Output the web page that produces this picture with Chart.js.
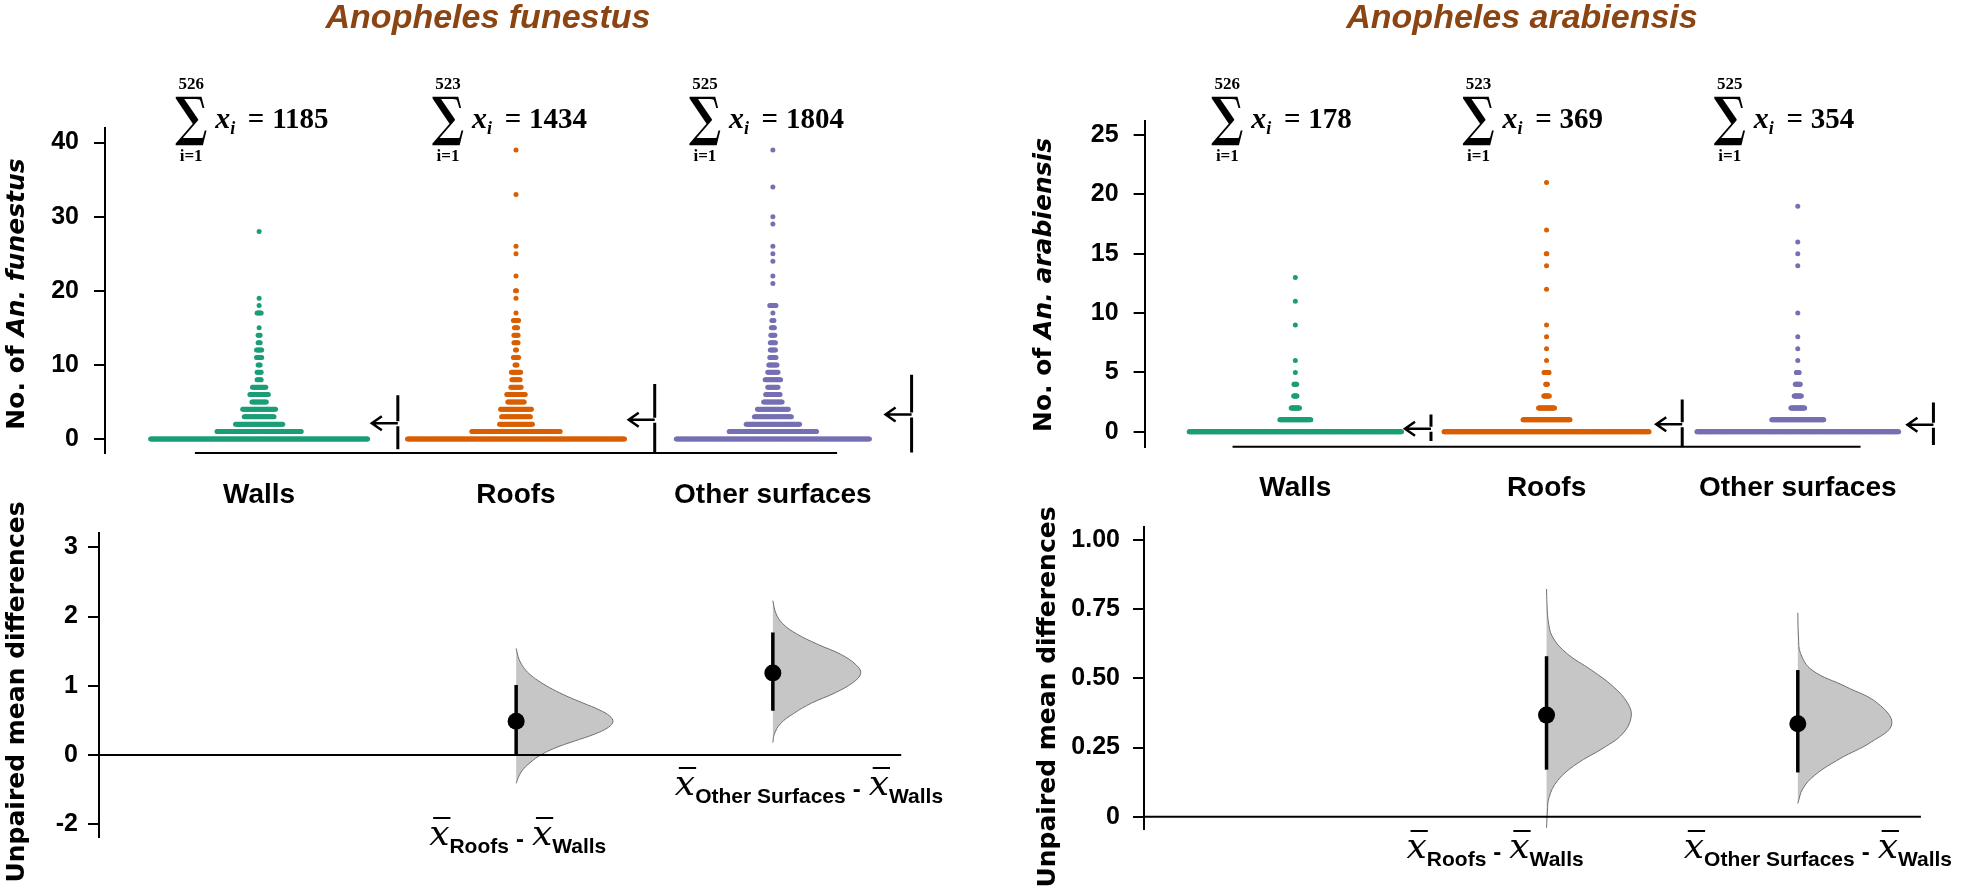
<!DOCTYPE html>
<html>
<head>
<meta charset="utf-8">
<script src="https://cdn.jsdelivr.net/npm/chart.js@4.4.1/dist/chart.umd.min.js"></script>
<style>
  html, body { margin: 0; padding: 0; background: #fff; }
  #wrap { position: relative; width: 1961px; height: 892px; overflow: hidden; }
  #wrap canvas { position: absolute; }
</style>
</head>
<body>
<div id="wrap">
  <canvas id="funSwarm" width="960" height="520" style="left:0;top:0"></canvas>
  <canvas id="arabSwarm" width="981" height="520" style="left:980px;top:0"></canvas>
  <canvas id="funDiff" width="980" height="422" style="left:0;top:470px"></canvas>
  <canvas id="arabDiff" width="981" height="422" style="left:980px;top:470px"></canvas>
</div>
<script>
// mosquitoes caught per sample -> number of samples with that catch
const funWallsValues = [0, 1, 2, 3, 4, 5, 6, 7, 8, 9, 10, 11, 12, 13, 14, 15, 17, 18, 19, 28];
const funWallsCounts = [245, 83, 47, 30, 33, 15, 19, 14, 5, 5, 3, 6, 6, 3, 3, 1, 5, 1, 1, 1];
const funRoofsValues = [0, 1, 2, 3, 4, 5, 6, 7, 8, 9, 10, 11, 12, 13, 14, 15, 16, 17, 19, 20, 22, 25, 26, 33, 39];
const funRoofsCounts = [237, 87, 33, 29, 31, 17, 19, 11, 9, 10, 3, 6, 2, 5, 5, 4, 6, 1, 1, 2, 1, 1, 1, 1, 1];
const funOtherValues = [0, 1, 2, 3, 4, 5, 6, 7, 8, 9, 10, 11, 12, 13, 14, 15, 16, 17, 18, 21, 22, 24, 25, 26, 29, 30, 34, 39];
const funOtherCounts = [189, 86, 53, 37, 31, 19, 15, 11, 16, 11, 9, 7, 6, 6, 5, 4, 3, 1, 7, 1, 1, 1, 1, 1, 1, 1, 1, 1];

const arabWallsValues = [0, 1, 2, 3, 4, 5, 6, 9, 11, 13];
const arabWallsCounts = [435, 57, 16, 7, 6, 1, 1, 1, 1, 1];
const arabRoofsValues = [0, 1, 2, 3, 4, 5, 6, 7, 8, 9, 12, 14, 15, 17, 21];
const arabRoofsCounts = [372, 86, 30, 11, 4, 10, 1, 1, 1, 1, 1, 1, 2, 1, 1];
const arabOtherValues = [0, 1, 2, 3, 4, 5, 6, 7, 8, 10, 14, 15, 16, 19];
const arabOtherCounts = [366, 95, 26, 14, 10, 6, 1, 1, 1, 1, 1, 1, 1, 1];

const groups = ['Walls', 'Roofs', 'Other surfaces'];
const diffGroups = ['Roofs', 'Other Surfaces'];

// tick labels
const funCountTicks = [0, 10, 20, 30, 40];
const arabCountTicks = [0, 5, 10, 15, 20, 25];
const funDiffTicks = [-1, 0, 1, 2, 3];
const funDiffTickLabels = ['-2', '0', '1', '2', '3'];
const arabDiffTicks = [0, 0.25, 0.5, 0.75, 1];
const arabDiffTickLabels = ['0', '0.25', '0.50', '0.75', '1.00'];

// 95% CI of the mean difference vs walls (Roofs, Other surfaces)
const funCiLow = [-0.01, 0.64];
const funCiHigh = [1.01, 1.77];
const arabCiLow = [0.17, 0.16];
const arabCiHigh = [0.58, 0.53];

// bootstrap distributions of the difference: value and density
const funRoofsDistY = [-0.41, -0.30, -0.20, -0.10, 0.00, 0.10, 0.20, 0.30, 0.40, 0.48, 0.56, 0.65, 0.75, 0.85, 0.95, 1.05, 1.15, 1.25, 1.38, 1.54];
const funRoofsDistD = [0.00, 0.04, 0.10, 0.20, 0.33, 0.52, 0.78, 1.05, 1.24, 1.30, 1.26, 1.12, 0.90, 0.68, 0.49, 0.33, 0.20, 0.11, 0.04, 0.00];
const funOtherDistY = [0.18, 0.30, 0.45, 0.60, 0.75, 0.90, 1.05, 1.18, 1.30, 1.45, 1.60, 1.75, 1.90, 2.05, 2.23];
const funOtherDistD = [0.00, 0.02, 0.10, 0.28, 0.52, 0.84, 1.08, 1.18, 1.12, 0.92, 0.60, 0.32, 0.13, 0.04, 0.00];
const arabRoofsDistY = [-0.04, 0.02, 0.07, 0.13, 0.19, 0.25, 0.30, 0.36, 0.41, 0.47, 0.53, 0.59, 0.65, 0.71, 0.77, 0.823];
const arabRoofsDistD = [0.00, 0.04, 0.11, 0.48, 1.30, 2.52, 3.33, 3.70, 3.55, 2.92, 1.96, 0.89, 0.26, 0.07, 0.02, 0.00];
const arabOtherDistY = [0.048, 0.10, 0.15, 0.21, 0.27, 0.335, 0.41, 0.47, 0.53, 0.59, 0.65, 0.737];
const arabOtherDistD = [0.00, 0.21, 0.74, 1.85, 3.21, 4.11, 3.49, 2.10, 0.62, 0.12, 0.03, 0.00];

const groupColors = ['#1b9e77', '#d95f02', '#7570b3'];
const titleColor = '#8b4513';
const SANS = '"Liberation Sans", Arial, sans-serif';
const SERIF = '"Liberation Serif", "DejaVu Serif", serif';
const WIDE = '"DejaVu Sans", sans-serif';

function groupStats(values, counts) {
  let n = 0, s = 0, s2 = 0;
  values.forEach((v, i) => { n += counts[i]; s += v * counts[i]; s2 += v * v * counts[i]; });
  const mean = s / n;
  return { n, sum: s, mean, sd: Math.sqrt((s2 - n * mean * mean) / (n - 1)) };
}

// lay the dots of each row side by side around the group centre
function swarmPoints(values, counts, center, step, cap) {
  const pts = [];
  values.forEach((v, k) => {
    const n = counts[k];
    const gap = n > 1 ? Math.min(step, cap / (n - 1)) : 0;
    for (let i = 0; i < n; i++) pts.push({ x: center + (i - (n - 1) / 2) * gap, y: v });
  });
  return pts;
}

function yAxis(min, max, ticks, labels, width, pad) {
  return {
    type: 'linear', min, max,
    afterFit: s => { s.width = width; },
    afterBuildTicks: s => { s.ticks = ticks.map(v => ({ value: v })); },
    grid: { display: true, drawOnChartArea: false, drawTicks: true, tickLength: 11, color: '#000', lineWidth: 2 },
    border: { display: true, color: '#000', width: 2 },
    ticks: { padding: pad, color: '#000', autoSkip: false, font: { family: SANS, weight: 'bold', size: 25 },
             callback: (v, i) => labels[i] }
  };
}

function drawVerticalTitle(ctx, parts, cx, cy) {
  ctx.save();
  ctx.translate(cx, cy);
  ctx.rotate(-Math.PI / 2);
  ctx.fillStyle = '#000';
  ctx.textBaseline = 'alphabetic';
  let total = 0;
  parts.forEach(p => {
    ctx.font = (p.italic ? 'italic ' : '') + 'bold 25px ' + WIDE;
    p.w = ctx.measureText(p.text).width;
    total += p.w;
  });
  let x = -total / 2;
  parts.forEach(p => {
    ctx.font = (p.italic ? 'italic ' : '') + 'bold 25px ' + WIDE;
    ctx.fillText(p.text, x, 9);
    x += p.w;
  });
  ctx.restore();
}

function drawTitle(ctx, text, cx) {
  ctx.save();
  ctx.fillStyle = titleColor;
  ctx.font = 'italic bold 34px ' + SANS;
  ctx.textAlign = 'center';
  ctx.fillText(text, cx, 28);
  ctx.restore();
}

function drawSigma(ctx, cx, n, sum) {
  const left = cx - 84;
  ctx.save();
  ctx.fillStyle = '#000';
  ctx.font = 'bold 60px "DejaVu Serif"';
  const m = ctx.measureText('\u2211');
  const gw = m.actualBoundingBoxLeft + m.actualBoundingBoxRight;
  const gh = m.actualBoundingBoxAscent + m.actualBoundingBoxDescent;
  ctx.save();
  ctx.translate(left, 96);
  ctx.scale(32 / gw, 50 / gh);
  ctx.fillText('\u2211', m.actualBoundingBoxLeft, m.actualBoundingBoxAscent);
  ctx.restore();

  ctx.textAlign = 'center';
  ctx.font = 'bold 17px ' + SERIF;
  ctx.fillText(String(n), left + 16, 89);
  ctx.fillText('i=1', left + 16, 161);

  ctx.textAlign = 'left';
  let x = cx - 44;
  ctx.font = 'italic bold 30px ' + SERIF;
  ctx.fillText('x', x, 128);
  x += ctx.measureText('x').width;
  ctx.font = 'italic bold 18px ' + SERIF;
  ctx.fillText('i', x, 134);
  ctx.font = 'bold 29px ' + SERIF;
  ctx.textAlign = 'center';
  ctx.fillText('=', cx - 3, 128);
  ctx.textAlign = 'left';
  ctx.fillText(String(sum), cx + 13, 128);
  ctx.restore();
}

function makeSwarmChart(id, p) {
  const stats = p.values.map((v, g) => groupStats(v, p.counts[g]));
  const datasets = p.values.map((v, g) => ({
    type: 'scatter',
    data: swarmPoints(v, p.counts[g], g + 1, p.step, 0.845),
    pointRadius: 2.5, pointBorderWidth: 0,
    pointBackgroundColor: groupColors[g], backgroundColor: groupColors[g], order: 2
  }));
  datasets.push({
    type: 'line', data: [{ x: 0.75, y: p.yMin }, { x: 3.25, y: p.yMin }],
    borderColor: '#000', borderWidth: 2, pointRadius: 0, clip: false, order: 1
  });

  const decor = {
    id: 'swarmDecor',
    afterDatasetsDraw(chart) {
      const { ctx, chartArea: a, scales: { x, y } } = chart;
      ctx.save();
      ctx.beginPath();
      ctx.rect(a.left, a.top, a.right - a.left, a.bottom - a.top + 1);
      ctx.clip();
      ctx.strokeStyle = '#000';
      stats.forEach((s, g) => {
        const px = x.getPixelForValue(g + 1.54);
        const pm = y.getPixelForValue(s.mean);
        ctx.lineWidth = 3;
        ctx.beginPath();
        ctx.moveTo(px, y.getPixelForValue(s.mean + s.sd));
        ctx.lineTo(px, pm - 1);
        ctx.moveTo(px, pm + 4);
        ctx.lineTo(px, y.getPixelForValue(s.mean - s.sd));
        ctx.stroke();
        ctx.lineWidth = 2.5;
        ctx.beginPath();
        ctx.moveTo(px, pm + 1);
        ctx.lineTo(px - 26, pm + 1);
        ctx.moveTo(px - 16, pm - 6);
        ctx.lineTo(px - 26, pm + 1);
        ctx.lineTo(px - 16, pm + 8);
        ctx.stroke();
      });
      ctx.restore();
    },
    afterDraw(chart) {
      const { ctx, scales: { x } } = chart;
      drawTitle(ctx, p.title, p.titleX);
      drawVerticalTitle(ctx, p.yTitle, p.yTitleX, p.yTitleY);
      stats.forEach((s, g) => drawSigma(ctx, x.getPixelForValue(g + 1), s.n, s.sum));
    }
  };

  return new Chart(document.getElementById(id), {
    type: 'scatter',
    data: { datasets },
    options: {
      responsive: false, animation: false, events: [], devicePixelRatio: 1,
      layout: { padding: { top: p.area.top, right: p.width - p.area.right, left: 0, bottom: 0 } },
      plugins: { legend: { display: false }, tooltip: { enabled: false } },
      scales: {
        x: {
          type: 'linear', min: 0.4, max: 3.6,
          afterFit: s => { s.height = p.height - p.area.bottom; },
          afterBuildTicks: s => { s.ticks = [1, 2, 3].map(v => ({ value: v })); },
          grid: { display: false, drawTicks: false },
          border: { display: false },
          ticks: { padding: p.labelPad, color: '#000', autoSkip: false, maxRotation: 0, minRotation: 0,
                   font: { family: SANS, weight: 'bold', size: 28 }, callback: (v, i) => groups[i] }
        },
        y: yAxis(p.yMin, p.yMax, p.ticks, p.ticks.map(String), p.area.left, 15)
      }
    },
    plugins: [decor]
  });
}

function drawXbar(ctx, x, base) {
  ctx.font = 'italic 36px "DejaVu Serif"';
  ctx.fillText('x', x, base);
  const w = ctx.measureText('x').width;
  ctx.lineWidth = 2;
  ctx.beginPath();
  ctx.moveTo(x + 4, base - 27);
  ctx.lineTo(x + w + 1, base - 27);
  ctx.stroke();
  return x + w;
}

function drawDiffLabel(ctx, x, base, sub) {
  ctx.save();
  ctx.fillStyle = '#000';
  ctx.strokeStyle = '#000';
  ctx.textAlign = 'left';
  x = drawXbar(ctx, x, base);
  ctx.font = 'bold 21px ' + SANS;
  ctx.fillText(sub, x, base + 8);
  x += ctx.measureText(sub).width + 7;
  ctx.font = 'bold 24px ' + SANS;
  ctx.fillText('-', x, base + 2);
  x += ctx.measureText('-').width + 8;
  x = drawXbar(ctx, x, base);
  ctx.font = 'bold 21px ' + SANS;
  ctx.fillText('Walls', x, base + 8);
  ctx.restore();
}

function makeDiffChart(id, p) {
  const base = groupStats(p.values[0], p.counts[0]);
  const diffs = [1, 2].map(g => groupStats(p.values[g], p.counts[g]).mean - base.mean);
  const datasets = [{
    type: 'line', data: [{ x: p.xMin, y: 0 }, { x: p.zeroEnd, y: 0 }],
    borderColor: '#000', borderWidth: 2, pointRadius: 0, order: 0
  }];
  diffs.forEach((d, j) => {
    const cx = j + 2;
    datasets.push({
      type: 'scatter', data: [{ x: cx, y: d }], pointRadius: 8.5, pointBorderWidth: 0,
      pointBackgroundColor: '#000', backgroundColor: '#000', order: 1
    });
    datasets.push({
      type: 'line', data: [{ x: cx, y: p.ciLow[j] }, { x: cx, y: p.ciHigh[j] }],
      borderColor: '#000', borderWidth: 3.5, pointRadius: 0, order: 2
    });
    datasets.push({
      type: 'line',
      data: p.distY[j].map((y, i) => ({ x: cx + p.distD[j][i] * p.densityScale, y })),
      fill: 'shape', backgroundColor: '#c6c6c6', borderColor: '#707070', borderWidth: 1,
      pointRadius: 0, tension: 0.4, order: 3
    });
  });

  const decor = {
    id: 'diffDecor',
    afterDraw(chart) {
      const { ctx, scales: { x } } = chart;
      drawVerticalTitle(ctx, [{ text: 'Unpaired mean differences' }], p.yTitleX, p.yTitleY);
      p.labels.forEach((l, j) => drawDiffLabel(ctx, x.getPixelForValue(j + 2) + l.dx, l.base, diffGroups[j]));
    }
  };

  return new Chart(document.getElementById(id), {
    type: 'scatter',
    data: { datasets },
    options: {
      responsive: false, animation: false, events: [], devicePixelRatio: 1,
      layout: { padding: { top: p.area.top, right: p.width - p.area.right, left: 0, bottom: p.height - p.area.bottom } },
      plugins: { legend: { display: false }, tooltip: { enabled: false } },
      scales: {
        x: { type: 'linear', min: p.xMin, max: p.xMax, display: false },
        y: yAxis(p.yMin, p.yMax, p.ticks, p.tickLabels, p.area.left, p.tickPad)
      }
    },
    plugins: [decor]
  });
}

makeSwarmChart('funSwarm', {
  values: [funWallsValues, funRoofsValues, funOtherValues],
  counts: [funWallsCounts, funRoofsCounts, funOtherCounts],
  step: 0.0040, width: 960, height: 520,
  area: { left: 105, right: 927, top: 128, bottom: 453 },
  yMin: -1.89, yMax: 41.97, ticks: funCountTicks, labelPad: 25,
  title: 'Anopheles funestus', titleX: 488,
  yTitle: [{ text: 'No. of ' }, { text: 'An. funestus', italic: true }], yTitleX: 15, yTitleY: 294
});

makeSwarmChart('arabSwarm', {
  values: [arabWallsValues, arabRoofsValues, arabOtherValues],
  counts: [arabWallsCounts, arabRoofsCounts, arabOtherCounts],
  step: 0.0022, width: 981, height: 520,
  area: { left: 164.6, right: 968.5, top: 120.7, bottom: 446.7 },
  yMin: -1.265, yMax: 26.22, ticks: arabCountTicks, labelPad: 25,
  title: 'Anopheles arabiensis', titleX: 542,
  yTitle: [{ text: 'No. of ' }, { text: 'An. arabiensis', italic: true }], yTitleX: 62, yTitleY: 285
});

makeDiffChart('funDiff', {
  values: [funWallsValues, funRoofsValues, funOtherValues],
  counts: [funWallsCounts, funRoofsCounts, funOtherCounts],
  ciLow: funCiLow, ciHigh: funCiHigh,
  distY: [funRoofsDistY, funOtherDistY], distD: [funRoofsDistD, funOtherDistD], densityScale: 0.29,
  width: 980, height: 422, area: { left: 99, right: 932, top: 63, bottom: 366.7 },
  xMin: 0.375, xMax: 3.62, zeroEnd: 3.5,
  yMin: -1.181, yMax: 3.208, ticks: funDiffTicks, tickLabels: funDiffTickLabels, tickPad: 10,
  yTitleX: 15, yTitleY: 222,
  labels: [{ dx: -87, base: 375 }, { dx: -98, base: 325 }]
});

makeDiffChart('arabDiff', {
  values: [arabWallsValues, arabRoofsValues, arabOtherValues],
  counts: [arabWallsCounts, arabRoofsCounts, arabOtherCounts],
  ciLow: arabCiLow, ciHigh: arabCiHigh,
  distY: [arabRoofsDistY, arabOtherDistY], distD: [arabRoofsDistD, arabOtherDistD], densityScale: 0.091,
  width: 981, height: 422, area: { left: 164, right: 956, top: 57, bottom: 359 },
  xMin: 0.398, xMax: 3.55, zeroEnd: 3.49,
  yMin: -0.0444, yMax: 1.047, ticks: arabDiffTicks, tickLabels: arabDiffTickLabels, tickPad: 13,
  yTitleX: 66, yTitleY: 227,
  labels: [{ dx: -140, base: 388 }, { dx: -114, base: 388 }]
});
</script>
</body>
</html>
